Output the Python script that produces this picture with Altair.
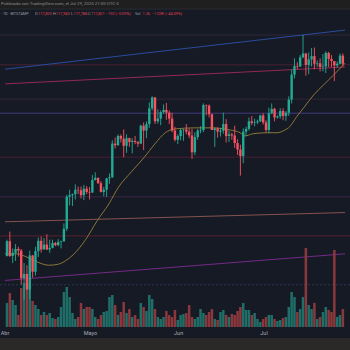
import altair as alt
import pandas as pd

# ---------------- data (day index 0 = 1 Apr 2025, daily candles, prices in k USD) -------------
days = list(range(119))
opens = [82.5, 85.2, 82.5, 83.1, 83.8, 83.5, 78.4, 79.2, 76.3, 82.6,
         79.6, 83.4, 85.3, 83.7, 84.6, 83.7, 84.0, 84.9, 84.5, 85.1,
         85.2, 87.5, 93.4, 93.7, 93.9, 94.7, 94.6, 93.7, 94.9, 94.3,
         94.2, 96.5, 96.9, 95.9, 94.3, 94.7, 96.8, 97.0, 103.2, 102.9,
         104.6, 104.1, 102.8, 104.2, 103.5, 103.7, 103.5, 103.2, 106.5, 105.6,
         106.8, 109.7, 111.7, 107.3, 107.8, 109.0, 109.4, 108.9, 107.8, 105.6,
         103.9, 104.6, 105.7, 105.8, 105.4, 104.7, 101.6, 104.4, 105.6, 105.7,
         110.3, 110.2, 108.6, 105.7, 106.0, 105.4, 105.6, 106.8, 104.6, 104.9,
         104.7, 103.3, 102.1, 100.9, 105.4, 105.9, 107.3, 107.0, 107.1, 107.3,
         108.4, 107.1, 105.7, 108.8, 109.6, 108.0, 108.2, 109.2, 108.3, 108.9,
         111.3, 115.9, 117.5, 117.4, 119.1, 119.8, 117.7, 118.7, 119.3, 117.9,
         118.0, 117.3, 117.4, 119.9, 118.8, 118.4, 117.6, 117.9, 119.4]
highs = [85.5, 87.0, 83.9, 84.7, 84.2, 83.8, 81.2, 80.8, 83.5, 82.7,
         84.2, 85.9, 86.1, 85.8, 86.5, 85.5, 85.5, 85.1, 85.6, 85.3,
         88.5, 93.8, 94.7, 94.0, 95.7, 95.3, 95.3, 95.6, 95.4, 95.2,
         97.4, 97.9, 96.9, 96.3, 95.2, 96.9, 97.7, 103.8, 104.3, 104.9,
         104.9, 105.8, 104.9, 104.3, 104.2, 104.6, 103.7, 106.7, 107.1, 107.3,
         110.8, 111.9, 111.8, 109.5, 109.3, 110.4, 110.7, 109.3, 108.9, 106.3,
         104.9, 105.9, 105.9, 106.8, 106.0, 105.9, 105.3, 105.9, 106.4, 110.6,
         110.4, 110.4, 108.7, 106.2, 106.2, 106.1, 108.9, 107.7, 105.6, 105.2,
         106.5, 104.0, 103.0, 106.0, 106.3, 108.0, 108.3, 107.8, 107.6, 108.5,
         108.8, 107.5, 109.8, 110.6, 109.8, 108.4, 109.7, 109.7, 109.2, 111.9,
         116.8, 118.9, 118.2, 119.5, 123.2, 119.9, 120.0, 120.8, 120.9, 118.5,
         118.9, 119.7, 120.2, 120.1, 119.5, 118.4, 118.3, 119.8, 119.8]
lows = [82.4, 82.3, 81.2, 81.6, 82.4, 77.2, 74.5, 76.2, 74.6, 78.5,
        78.9, 82.3, 83.1, 83.7, 83.6, 83.1, 83.9, 84.3, 84.3, 83.9,
        85.1, 87.1, 91.8, 91.7, 92.9, 93.9, 93.1, 92.8, 93.9, 92.9,
        94.1, 96.4, 95.8, 94.2, 93.5, 93.4, 95.8, 96.9, 102.3, 102.8,
        103.4, 100.7, 101.5, 102.6, 101.4, 103.1, 102.6, 103.1, 102.0, 104.2,
        106.1, 109.3, 106.8, 106.9, 106.6, 108.7, 107.6, 106.8, 105.3, 103.6,
        103.1, 103.8, 103.7, 104.9, 104.2, 100.4, 101.1, 103.9, 105.1, 105.3,
        108.4, 108.0, 105.7, 102.6, 104.3, 104.5, 105.0, 103.4, 103.5, 103.9,
        102.4, 101.1, 97.3, 99.6, 104.6, 105.6, 106.6, 106.4, 106.8, 107.2,
        106.7, 105.3, 105.1, 108.6, 107.3, 107.8, 107.8, 107.5, 107.4, 108.3,
        110.6, 115.2, 116.9, 117.3, 118.9, 115.7, 116.0, 117.4, 116.9, 117.3,
        116.5, 116.5, 116.2, 117.3, 117.3, 114.7, 117.2, 117.8, 117.4]
closes = [85.2, 82.5, 83.1, 83.8, 83.5, 78.4, 79.2, 76.3, 82.6, 79.6,
          83.4, 85.3, 83.7, 84.6, 83.7, 84.0, 84.9, 84.5, 85.1, 85.2,
          87.5, 93.4, 93.7, 93.9, 94.7, 94.6, 93.7, 94.9, 94.3, 94.2,
          96.5, 96.9, 95.9, 94.3, 94.7, 96.8, 97.0, 103.2, 102.9, 104.6,
          104.1, 102.8, 104.2, 103.5, 103.7, 103.5, 103.2, 106.5, 105.6, 106.8,
          109.7, 111.7, 107.3, 107.8, 109.0, 109.4, 108.9, 107.8, 105.6, 103.9,
          104.6, 105.7, 105.8, 105.4, 104.7, 101.6, 104.4, 105.6, 105.7, 110.3,
          110.2, 108.6, 105.7, 106.0, 105.4, 105.6, 106.8, 104.6, 104.9, 104.7,
          103.3, 102.1, 100.9, 105.4, 105.9, 107.3, 107.0, 107.1, 107.3, 108.4,
          107.1, 105.7, 108.8, 109.6, 108.0, 108.2, 109.2, 108.3, 108.9, 111.3,
          115.9, 117.5, 117.4, 119.1, 119.8, 117.7, 118.7, 119.3, 117.9, 118.0,
          117.3, 117.4, 119.9, 118.8, 118.4, 117.6, 117.9, 119.4, 117.9]
# volume in thousands of BTC
volumes = [2.4, 3.4, 2.7, 2.2, 1.2, 3.9, 4.4, 3.7, 4.4, 2.6,
           2.2, 1.8, 1.2, 1.5, 1.2, 1.4, 0.9, 0.8, 1.0, 2.0,
           3.5, 4.0, 3.0, 1.4, 0.8, 1.0, 2.4, 1.8, 2.0, 2.0,
           1.8, 1.0, 0.8, 1.2, 1.5, 1.6, 3.0, 3.2, 2.2, 1.2,
           1.5, 2.5, 1.4, 1.8, 1.0, 1.2, 0.8, 2.4, 2.0, 1.6,
           3.2, 2.8, 1.8, 1.0, 0.8, 1.0, 1.6, 1.2, 1.0, 1.7,
           0.7, 1.2, 1.3, 1.4, 2.2, 1.0, 0.8, 1.0, 1.8, 1.4,
           1.2, 1.5, 1.8, 0.8, 0.7, 1.5, 1.7, 1.2, 1.0, 1.3,
           1.2, 1.6, 2.0, 2.4, 1.7, 1.7, 1.2, 1.4, 0.8, 0.5,
           0.8, 1.0, 1.2, 1.2, 0.8, 0.6, 0.7, 0.9, 1.0, 2.0,
           3.5, 3.0, 1.5, 1.8, 3.0, 7.9, 2.2, 1.8, 2.4, 0.8,
           1.0, 1.5, 2.0, 1.7, 1.5, 7.7, 1.0, 1.2, 1.8]

# moving average (day index, price)
ma_days = [-0.7, 3.7, 6.1, 10.6, 14.7, 18.1, 20.5, 23.2, 27.6, 31.7, 35.8, 39.2,
           43.7, 48.1, 52.2, 55.6, 59.0, 65.9, 71.7, 78.5, 81.9, 83.6, 86.3,
           91.5, 94.9, 97.6, 99.3, 101.7, 104.4, 107.8, 111.2, 114.7, 118.75]
ma_vals = [82.9, 82.9, 82.5, 81.4, 80.8, 81.0, 81.6, 82.7, 85.5, 89.0, 92.1, 95.2,
           98.0, 100.6, 103.3, 105.2, 105.9, 106.1, 106.1, 105.7, 105.2, 104.6, 105.0,
           105.2, 105.2, 105.7, 106.3, 108.1, 109.9, 112.2, 114.0, 115.8, 118.0]

# horizontal levels (price) and their colours
level_prices = [123.2, 117.7, 111.4, 108.8, 100.7, 93.4, 86.2]
level_colors = ["#2f2736", "#4a2132", "#302637", "#433c80", "#4a2030", "#3b2647", "#562230"]
dashed_level = 77.2

# trend lines: start/end day and price
trend_names = ["blue", "crimson", "salmon", "purple"]
trend_x0 = [-0.7, -0.7, -0.7, -0.7]
trend_x1 = [118.75, 118.75, 118.75, 118.75]
trend_p0 = [116.9, 114.2, 88.8, 78.0]
trend_p1 = [124.1, 117.3, 90.5, 82.9]
trend_colors = ["#2a4b9c", "#932853", "#85524e", "#742a86"]

month_days = [0, 30, 61, 91]
month_labels = ["Abr", "Mayo", "Jun", "Jul"]

# ---------------- frames -------------
df = pd.DataFrame({"d": days, "o": opens, "h": highs, "l": lows, "c": closes, "v": volumes})
df["dir"] = ["up" if c >= o else "down" for o, c in zip(opens, closes)]
lv = pd.DataFrame({"p": level_prices, "col": level_colors})
tr = pd.DataFrame({
    "name": trend_names * 2,
    "d": trend_x0 + trend_x1,
    "p": trend_p0 + trend_p1,
})
ma = pd.DataFrame({"d": ma_days, "p": ma_vals})
months = pd.DataFrame({"d": month_days, "t": month_labels})

BG = "#161a25"
UP, DN = "#22ab94", "#f7525f"
VUP, VDN = "#1f6f68", "#8a383c"

xs = alt.Scale(domain=[-0.7, 118.75], nice=False, zero=False)
ps = alt.Scale(domain=[65.189, 129.646], nice=False, zero=False)
vs = alt.Scale(domain=[-2.3, 32.7], nice=False, zero=False)

X = alt.X("d:Q", scale=xs, axis=None)

base = alt.Chart(df)

levels = alt.Chart(lv).mark_rule(strokeWidth=1).encode(
    y=alt.Y("p:Q", scale=ps, axis=None),
    color=alt.Color("col:N", scale=None, legend=None),
)
dashed = alt.Chart(pd.DataFrame({"p": [dashed_level]})).mark_rule(
    strokeWidth=1, strokeDash=[2, 2], color="#2b3754"
).encode(y=alt.Y("p:Q", scale=ps, axis=None))

trends = alt.Chart(tr).mark_line(strokeWidth=1, clip=True).encode(
    x=X,
    y=alt.Y("p:Q", scale=ps, axis=None),
    color=alt.Color("name:N", scale=alt.Scale(domain=trend_names, range=trend_colors), legend=None),
    detail="name:N",
)

vol_up = base.transform_filter("datum.dir == 'up'").mark_bar(size=2.5, color=VUP, clip=True).encode(
    x=X, y=alt.Y("v:Q", scale=vs, axis=None), y2=alt.datum(0))
vol_dn = base.transform_filter("datum.dir == 'down'").mark_bar(size=2.5, color=VDN, clip=True).encode(
    x=X, y=alt.Y("v:Q", scale=vs, axis=None), y2=alt.datum(0))

ma_line = alt.Chart(ma).mark_line(color="#8a7638", strokeWidth=1, interpolate="monotone", clip=True).encode(
    x=X, y=alt.Y("p:Q", scale=ps, axis=None))

def candles(direction, color):
    b = base.transform_filter(f"datum.dir == '{direction}'")
    wick = b.mark_rule(color=color, strokeWidth=0.9, clip=True).encode(
        x=X, y=alt.Y("l:Q", scale=ps, axis=None), y2="h:Q")
    body = b.mark_bar(color=color, size=2.4, clip=True).encode(
        x=X, y=alt.Y("o:Q", scale=ps, axis=None), y2="c:Q")
    return [wick, body]

month_text = alt.Chart(months).mark_text(
    fontSize=5.5, color="#a9acb5", font="Roboto", baseline="middle", align="center", dx=-2
).encode(x=X, text="t:N", y=alt.value(333))

footer = alt.Chart(pd.DataFrame({"a": [0]})).mark_rect(color="#2a2927").encode(
    x=alt.value(0), x2=alt.value(350), y=alt.value(338), y2=alt.value(350))
header = alt.Chart(pd.DataFrame({"a": [0]})).mark_rect(color="#1f1f20").encode(
    x=alt.value(0), x2=alt.value(350), y=alt.value(0), y2=alt.value(8.5))
header_line = alt.Chart(pd.DataFrame({"a": [0]})).mark_rule(color="#2c2c30", strokeWidth=1).encode(
    x=alt.value(0), x2=alt.value(350), y=alt.value(9))
header_text = alt.Chart(pd.DataFrame({"t": ["Publicado con TradingView.com, el Jul 29, 2025 21:00 UTC-3"]})).mark_text(
    fontSize=4.4, color="#8d8d8d", font="Roboto", align="left", baseline="middle"
).encode(x=alt.value(1), y=alt.value(4.3), text="t:N")

GRAY, RED = "#9a9da6", "#e0404f"
legend_parts = [
    (1, "· 1D · BITSTAMP", GRAY), (35, "O", GRAY), (38, "117,820", RED),
    (53, "H", GRAY), (56, "117,943", RED), (71, "L", GRAY), (73.5, "117,788", RED),
    (88, "C", GRAY), (91, "117,821", RED), (106, "−102 (−0.09%)", RED),
    (135, "Vol", GRAY), (142.5, "1.26", RED), (152, "−1.03K (−44.09%)", RED),
]
legend_layers = [
    alt.Chart(pd.DataFrame({"t": [t]})).mark_text(
        fontSize=3.8, color=col, font="Roboto", align="left", baseline="middle"
    ).encode(x=alt.value(xp), y=alt.value(14), text="t:N")
    for xp, t, col in legend_parts
]

layers = [levels, dashed, trends, vol_up, vol_dn, ma_line]
layers += candles("up", UP) + candles("down", DN)
layers += [month_text, footer, header, header_line, header_text] + legend_layers

chart = alt.layer(*layers).resolve_scale(y="independent").properties(
    width=350, height=350, background=BG, padding=0,
    autosize=alt.AutoSizeParams(type="none"),
).configure_view(stroke=None)

chart.save("out.html", embed_options={"renderer": "svg", "actions": False})
